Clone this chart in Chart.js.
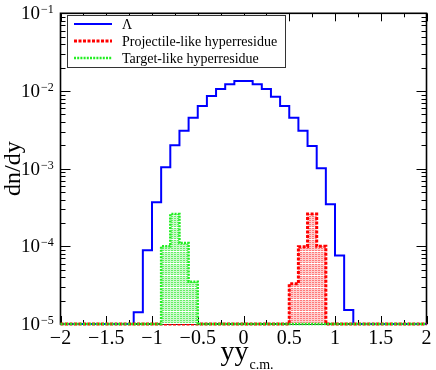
<!DOCTYPE html>
<html><head><meta charset="utf-8">
<script src="https://cdn.jsdelivr.net/npm/chart.js@4/dist/chart.umd.min.js"></script>
<style>html,body{margin:0;padding:0;background:#fff;overflow:hidden}</style>
</head><body>
<canvas id="c" width="436" height="370"></canvas>
<script>
// ---- data ----
const binEdges = [-2.0,-1.9,-1.8,-1.7,-1.6,-1.5,-1.4,-1.3,-1.2,-1.1,-1.0,-0.9,-0.8,-0.7,-0.6,-0.5,-0.4,-0.3,-0.2,-0.1,
  0.0,0.1,0.2,0.3,0.4,0.5,0.6,0.7,0.8,0.9,1.0,1.1,1.2,1.3,1.4,1.5,1.6,1.7,1.8,1.9,2.0];
const lambdaValues = [0,0,0,0,0,0,0,0,1.42e-5,8.9e-5,3.7e-4,1.04e-3,2.0e-3,3.08e-3,4.53e-3,6.41e-3,8.63e-3,1.06e-2,1.22e-2,1.345e-2,
  1.345e-2,1.22e-2,1.06e-2,8.45e-3,6.41e-3,4.53e-3,3.08e-3,1.96e-3,1.01e-3,3.48e-4,7.6e-5,1.51e-5,0,0,0,0,0,0,0,0];
const projectileValues = [0,0,0,0,0,0,0,0,0,0,0,0,0,0,0,0,0,0,0,0,
  0,0,0,0,0,3.3e-5,9.9e-5,2.6e-4,1.0e-4,0,0,0,0,0,0,0,0,0,0,0];
const targetValues = [0,0,0,0,0,0,0,0,0,0,0,1.0e-4,2.6e-4,1.1e-4,3.5e-5,0,0,0,0,0,
  0,0,0,0,0,0,0,0,0,0,0,0,0,0,0,0,0,0,0,0];
const seriesNames = ['Λ','Projectile-like hyperresidue','Target-like hyperresidue'];
const xMajorTicks = [-2,-1.5,-1,-0.5,0,0.5,1,1.5,2];
const xTickLabels = ['−2','−1.5','−1','−0.5','0','0.5','1','1.5','2'];
const xMinorTicks = [-1.75,-1.25,-0.75,-0.25,0.25,0.75,1.25,1.75];
const yDecades = [1e-5,1e-4,1e-3,1e-2,1e-1];
const yTickExponents = ['−5','−4','−3','−2','−1'];
const yMin = 1e-5, yMax = 1e-1;

const SERIF = '"Liberation Serif","Times New Roman",serif';

function toPoints(vals){
  return binEdges.map((e,i)=>({x:e, y:Math.max(vals[Math.min(i, vals.length-1)], yMin)}));
}
function makePattern(dark, light){
  const t=document.createElement('canvas'); t.width=3; t.height=12;
  const g=t.getContext('2d');
  g.fillStyle=light; g.fillRect(0,0,3,12);
  g.fillStyle=dark;
  for (let j=0;j<11;j+=2) g.fillRect(0,j,2,1);
  g.fillStyle='#ffffff'; g.fillRect(0,11,3,1);
  return g.createPattern(t,'repeat');
}

const framePlugin = {
  id:'frame',
  beforeDatasetsDraw(chart){
    const {ctx, chartArea:a, scales:{x,y}} = chart;
    ctx.save();
    ctx.strokeStyle='#000';
    ctx.lineWidth=1;
    ctx.beginPath();
    for (const v of xMajorTicks){
      const px=Math.round(x.getPixelForValue(v))+0.5;
      ctx.moveTo(px,a.bottom); ctx.lineTo(px,a.bottom-8);
      ctx.moveTo(px,a.top); ctx.lineTo(px,a.top+8);
    }
    for (const v of xMinorTicks){
      const px=Math.round(x.getPixelForValue(v))+0.5;
      ctx.moveTo(px,a.bottom); ctx.lineTo(px,a.bottom-4);
      ctx.moveTo(px,a.top); ctx.lineTo(px,a.top+4);
    }
    for (const d of yDecades){
      const py=Math.round(y.getPixelForValue(d))+0.5;
      ctx.moveTo(a.left,py); ctx.lineTo(a.left+10,py);
      ctx.moveTo(a.right,py); ctx.lineTo(a.right-10,py);
      if (d<yMax){
        for (let k=2;k<=9;k++){
          const pm=Math.round(y.getPixelForValue(k*d))+0.5;
          ctx.moveTo(a.left,pm); ctx.lineTo(a.left+5,pm);
          ctx.moveTo(a.right,pm); ctx.lineTo(a.right-5,pm);
        }
      }
    }
    ctx.stroke();
    ctx.lineWidth=1.6;
    ctx.strokeRect(a.left,a.top,a.right-a.left,a.bottom-a.top);

    // tick labels
    ctx.fillStyle='#000';
    ctx.font='20px '+SERIF;
    ctx.textAlign='center'; ctx.textBaseline='alphabetic';
    xMajorTicks.forEach((v,i)=>{
      ctx.fillText(xTickLabels[i], x.getPixelForValue(v), a.bottom+20);
    });
    yDecades.forEach((d,i)=>{
      const py=y.getPixelForValue(d);
      ctx.font='19px '+SERIF; ctx.textAlign='right';
      ctx.fillText('10', 40, py+6);
      ctx.font='12px '+SERIF; ctx.textAlign='left';
      ctx.fillText(yTickExponents[i], 41, py);
    });
    // axis titles
    ctx.save();
    ctx.translate(14,(a.top+a.bottom)/2);
    ctx.rotate(-Math.PI/2);
    ctx.font='24px '+SERIF; ctx.textAlign='center'; ctx.textBaseline='middle';
    ctx.fillText('dn/dy',0,0);
    ctx.restore();
    ctx.font='28px '+SERIF;
    const w1=ctx.measureText('yy').width;
    ctx.font='14px '+SERIF;
    const w2=ctx.measureText('c.m.').width;
    const sx=(a.left+a.right)/2-(w1+w2)/2+3;
    ctx.textAlign='left';
    ctx.font='28px '+SERIF;
    ctx.fillText('yy',sx,360);
    ctx.font='14px '+SERIF;
    ctx.fillText('c.m.',sx+w1+1,369);
    ctx.restore();
  },
  afterDatasetsDraw(chart){
    const {ctx} = chart;
    ctx.save();
    ctx.fillStyle='#fff';
    ctx.fillRect(67,15,219,53);
    ctx.strokeStyle='#333'; ctx.lineWidth=1;
    ctx.strokeRect(67.5,15.5,218,52);
    const ds=chart.data.datasets;
    const rows=[24,41,58];
    ds.forEach((d,i)=>{
      ctx.beginPath();
      ctx.strokeStyle=d.borderColor; ctx.lineWidth=d.borderWidth;
      ctx.setLineDash(d.borderDash||[]);
      ctx.moveTo(74,rows[i]); ctx.lineTo(112,rows[i]);
      ctx.stroke();
      ctx.setLineDash([]);
      ctx.fillStyle='#000';
      ctx.font='14px '+SERIF; ctx.textAlign='left'; ctx.textBaseline='middle';
      ctx.fillText(d.label,122,rows[i]+1);
    });
    ctx.restore();
  }
};

new Chart(document.getElementById('c'),{
  type:'line',
  data:{datasets:[
    {label:seriesNames[0], data:toPoints(lambdaValues), borderColor:'#0000ff', borderWidth:2,
     stepped:'before', pointRadius:0, fill:false, order:3, clip:4},
    {label:seriesNames[1], data:toPoints(projectileValues), borderColor:'#ff0000', borderWidth:3, borderDash:[3,1.5],
     stepped:'before', pointRadius:0, fill:'start', backgroundColor:makePattern('#ff7a7a','#ffd0d0'), order:2, clip:4},
    {label:seriesNames[2], data:toPoints(targetValues), borderColor:'#22ee22', borderWidth:2.5, borderDash:[2,1.2],
     stepped:'before', pointRadius:0, fill:'start', backgroundColor:makePattern('#66ee66','#cff9cf'), order:1, clip:4}
  ]},
  options:{
    responsive:false, animation:false, devicePixelRatio:1,
    layout:{padding:{left:60.5,right:9.5,top:13.3,bottom:46}},
    plugins:{legend:{display:false}, tooltip:{enabled:false}},
    scales:{
      x:{type:'linear', min:-2, max:2, display:false},
      y:{type:'logarithmic', min:yMin, max:yMax, display:false}
    }
  },
  plugins:[framePlugin]
});
</script>
</body></html>
